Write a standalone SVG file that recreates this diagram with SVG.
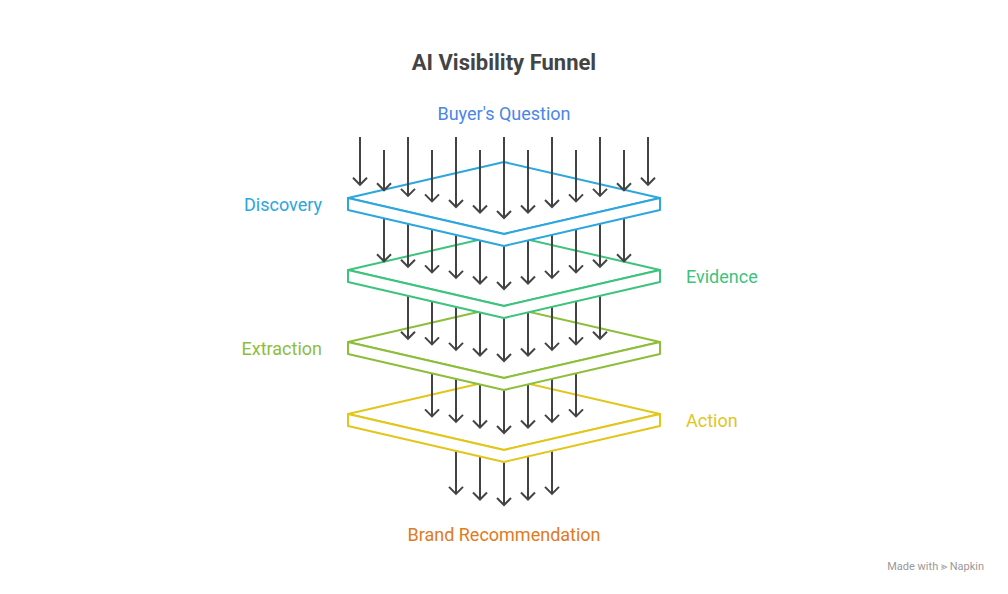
<svg xmlns="http://www.w3.org/2000/svg" width="1008" height="594" viewBox="0 0 1008 594">
<style>
text{font-family:Roboto,"Liberation Sans",sans-serif}
.a line{stroke:#434343;stroke-width:2;marker-end:url(#h)}
.p{fill:#fff;stroke-width:2;stroke-linejoin:round}
.lbl{font-size:18px}
</style>
<defs>
<marker id="h" markerUnits="userSpaceOnUse" markerWidth="20" markerHeight="20" refX="0" refY="0" orient="auto" overflow="visible" viewBox="-10 -10 20 20">
<path d="M-7,-7 L0,0 L-7,7" fill="none" stroke="#434343" stroke-width="2"/>
</marker>
</defs>
<rect width="1008" height="594" fill="#fff"/>
<text x="504" y="70" text-anchor="middle" font-size="22" font-weight="bold" fill="#444">AI Visibility Funnel</text>
<text x="504" y="120" text-anchor="middle" class="lbl" fill="#4A86E8">Buyer's Question</text>
<text x="504" y="541" text-anchor="middle" class="lbl" fill="#E07B22">Brand Recommendation</text>
<g id="connectors" class="a">
<g id="arrows5">
<line x1="456" y1="450.9" x2="456" y2="493.9"/><line x1="480" y1="456.5" x2="480" y2="499.5"/><line x1="504" y1="462" x2="504" y2="505"/><line x1="528" y1="456.5" x2="528" y2="499.5"/><line x1="552" y1="450.9" x2="552" y2="493.9"/>
</g>
</g>
<g id="action"><path class="p" stroke="#E2C61A" d="M348,414 L504,378 L660,414 L504,450 Z"/><path class="p" stroke="#E2C61A" d="M348,414 L504,450 L660,414 L660,426 L504,462 L348,426 Z"/>
<text x="686" y="427" class="lbl" fill="#E2C61A">Action</text></g>
<g id="arrows4" class="a">
<line x1="432" y1="373.4" x2="432" y2="416.4"/><line x1="456" y1="378.9" x2="456" y2="421.9"/><line x1="480" y1="384.5" x2="480" y2="427.5"/><line x1="504" y1="390" x2="504" y2="433"/><line x1="528" y1="384.5" x2="528" y2="427.5"/><line x1="552" y1="378.9" x2="552" y2="421.9"/><line x1="576" y1="373.4" x2="576" y2="416.4"/>
</g>
<g id="extraction"><path class="p" stroke="#8DBE3A" d="M348,342 L504,306 L660,342 L504,378 Z"/><path class="p" stroke="#8DBE3A" d="M348,342 L504,378 L660,342 L660,354 L504,390 L348,354 Z"/>
<text x="322" y="355" text-anchor="end" class="lbl" fill="#8DBE3A">Extraction</text></g>
<g id="arrows3" class="a">
<line x1="408" y1="295.8" x2="408" y2="338.8"/><line x1="432" y1="301.4" x2="432" y2="344.4"/><line x1="456" y1="306.9" x2="456" y2="349.9"/><line x1="480" y1="312.5" x2="480" y2="355.5"/><line x1="504" y1="318" x2="504" y2="361"/><line x1="528" y1="312.5" x2="528" y2="355.5"/><line x1="552" y1="306.9" x2="552" y2="349.9"/><line x1="576" y1="301.4" x2="576" y2="344.4"/><line x1="600" y1="295.8" x2="600" y2="338.8"/>
</g>
<g id="evidence"><path class="p" stroke="#3CC37E" d="M348,270 L504,234 L660,270 L504,306 Z"/><path class="p" stroke="#3CC37E" d="M348,270 L504,306 L660,270 L660,282 L504,318 L348,282 Z"/>
<text x="686" y="283" class="lbl" fill="#3CC37E">Evidence</text></g>
<g id="arrows2" class="a">
<line x1="384" y1="218.3" x2="384" y2="261.3"/><line x1="408" y1="223.8" x2="408" y2="266.8"/><line x1="432" y1="229.4" x2="432" y2="272.4"/><line x1="456" y1="234.9" x2="456" y2="277.9"/><line x1="480" y1="240.5" x2="480" y2="283.5"/><line x1="504" y1="246" x2="504" y2="289"/><line x1="528" y1="240.5" x2="528" y2="283.5"/><line x1="552" y1="234.9" x2="552" y2="277.9"/><line x1="576" y1="229.4" x2="576" y2="272.4"/><line x1="600" y1="223.8" x2="600" y2="266.8"/><line x1="624" y1="218.3" x2="624" y2="261.3"/>
</g>
<g id="discovery"><path class="p" stroke="#2BA6DE" d="M348,198 L504,162 L660,198 L504,234 Z"/><path class="p" stroke="#2BA6DE" d="M348,198 L504,234 L660,198 L660,210 L504,246 L348,210 Z"/>
<text x="322" y="211" text-anchor="end" class="lbl" fill="#2BA6DE">Discovery</text></g>
<g id="arrows1" class="a">
<line x1="360" y1="137" x2="360" y2="184.8"/><line x1="384" y1="150" x2="384" y2="190.3"/><line x1="408" y1="137" x2="408" y2="195.9"/><line x1="432" y1="150" x2="432" y2="201.4"/><line x1="456" y1="137" x2="456" y2="207"/><line x1="480" y1="150" x2="480" y2="212.5"/><line x1="504" y1="137" x2="504" y2="218"/><line x1="528" y1="150" x2="528" y2="212.5"/><line x1="552" y1="137" x2="552" y2="207"/><line x1="576" y1="150" x2="576" y2="201.4"/><line x1="600" y1="137" x2="600" y2="195.9"/><line x1="624" y1="150" x2="624" y2="190.3"/><line x1="648" y1="137" x2="648" y2="184.8"/>
</g>
<text x="984" y="570" text-anchor="end" font-size="11" fill="#999">Made with ⪢ Napkin</text>
</svg>
